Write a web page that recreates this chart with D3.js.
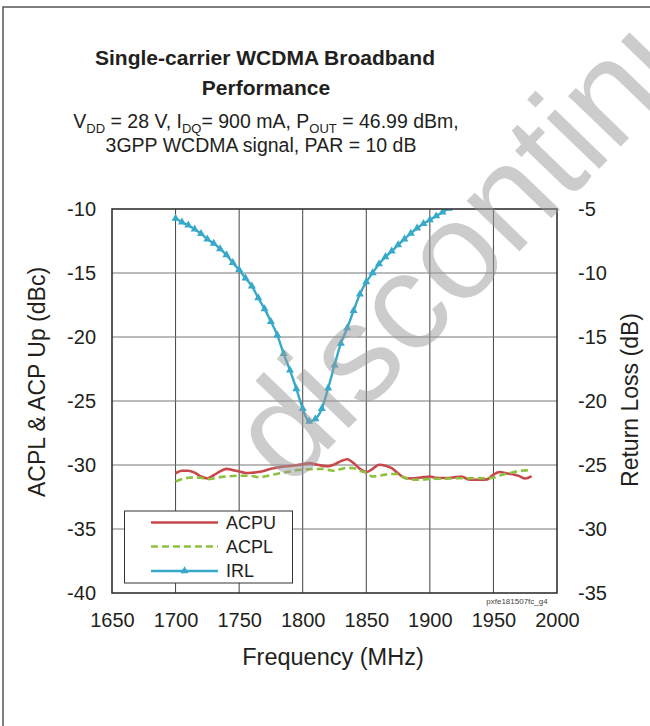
<!DOCTYPE html>
<html lang="en">
<head>
<meta charset="utf-8">
<script src="https://cdn.jsdelivr.net/npm/d3@7"></script>
<style>
  body { margin: 0; background: #fff; }
  svg { font-family: "Liberation Sans", Arial, sans-serif; }
</style>
</head>
<body>
<svg width="650" height="726"></svg>
<script>
// frequencies (MHz)
var freqs = [1700,1705,1710,1715,1720,1725,1730,1735,1740,1745,1750,1755,1760,1765,1770,1775,1780,1785,1790,1795,
  1800,1805,1810,1815,1820,1825,1830,1835,1840,1845,1850,1855,1860,1865,1870,1875,1880,1885,1890,1895,
  1900,1905,1910,1915,1920,1925,1930,1935,1940,1945,1950,1955,1960,1965,1970,1975,1980];

// ACPU (dBc), left axis
var acpu = [-30.65,-30.45,-30.45,-30.6,-30.9,-31.05,-30.8,-30.5,-30.3,-30.4,-30.5,-30.62,-30.6,-30.55,-30.45,-30.3,-30.2,-30.12,-30.08,-30.02,
  -29.95,-29.85,-29.95,-30.05,-30.1,-29.95,-29.7,-29.55,-29.85,-30.3,-30.55,-30.3,-29.98,-30.05,-30.25,-30.65,-31.0,-31.05,-31.02,-30.95,
  -30.9,-31.0,-31.02,-31.02,-30.95,-30.9,-31.12,-31.15,-31.15,-31.12,-30.75,-30.55,-30.65,-30.72,-30.85,-31.05,-30.86];

// ACPL (dBc), left axis
var acpl = [-31.3,-31.1,-31.0,-30.96,-31.0,-31.1,-31.05,-30.95,-30.9,-30.86,-30.84,-30.84,-30.86,-30.95,-30.9,-30.78,-30.68,-30.6,-30.5,-30.4,
  -30.36,-30.33,-30.32,-30.3,-30.38,-30.45,-30.32,-30.22,-30.25,-30.45,-30.62,-30.9,-30.83,-30.75,-30.7,-30.7,-31.0,-31.12,-31.15,-31.12,
  -31.1,-31.08,-31.08,-31.06,-31.04,-31.04,-31.04,-31.04,-31.04,-31.04,-31.0,-30.82,-30.68,-30.58,-30.47,-30.42,-30.42];

// IRL (dB), right axis
var irlFreqs = [1700,1705,1710,1715,1720,1725,1730,1735,1740,1745,1750,1755,1760,1765,1770,1775,1780,1785,1790,1795,
  1800,1805,1810,1815,1820,1825,1830,1835,1840,1845,1850,1855,1860,1865,1870,1875,1880,1885,1890,1895,1900,1905,1910,1915];
var irl = [-5.73,-6.03,-6.27,-6.58,-6.92,-7.35,-7.68,-8.12,-8.58,-9.2,-9.75,-10.4,-11.02,-11.95,-12.8,-13.8,-14.85,-16.3,-17.6,-19.05,
  -20.6,-21.6,-21.4,-20.6,-19.0,-17.2,-15.5,-14.3,-12.95,-11.65,-10.7,-10.0,-9.3,-8.75,-8.3,-7.8,-7.35,-6.9,-6.5,-6.15,-5.86,-5.55,-5.25,-4.95];

var xTicks = [1650,1700,1750,1800,1850,1900,1950,2000];
var leftTicks = [-40,-35,-30,-25,-20,-15,-10];
var rightTicks = [-35,-30,-25,-20,-15,-10,-5];

var svg = d3.select("svg");

var pLeft = 112, pRight = 557, pTop = 209, pBottom = 593;

var x = d3.scaleLinear().domain([1650, 2000]).range([pLeft, pRight]);
var yL = d3.scaleLinear().domain([-40, -10]).range([pBottom, pTop]);
var yR = d3.scaleLinear().domain([-35, -5]).range([pBottom, pTop]);

// plain hyphen for negatives, like the original
var fmt = function(d) { return String(d); };

// outer frame
svg.append("rect")
  .attr("x", 3).attr("y", 7).attr("width", 700).attr("height", 760)
  .attr("fill", "none").attr("stroke", "#555").attr("stroke-width", 1.5);

// title
var title = svg.append("g").attr("text-anchor", "middle").attr("fill", "#231f20");
title.append("text").attr("x", 265).attr("y", 65)
  .style("font-size", "21px").style("font-weight", "bold")
  .text("Single-carrier WCDMA Broadband");
title.append("text").attr("x", 266).attr("y", 95)
  .style("font-size", "21px").style("font-weight", "bold")
  .text("Performance");

var sub = title.append("text").attr("x", 266).attr("y", 128).style("font-size", "19.5px");
function subPart(t, small) {
  var s = sub.append("tspan").text(t);
  if (small) s.style("font-size", "13px").attr("dy", 5);
  return s;
}
subPart("V");
subPart("DD", true);
sub.append("tspan").attr("dy", -5).text(" = 28 V, I");
subPart("DQ", true);
sub.append("tspan").attr("dy", -5).text("= 900 mA, P");
subPart("OUT", true);
sub.append("tspan").attr("dy", -5).text(" = 46.99 dBm,");

title.append("text").attr("x", 261).attr("y", 152).style("font-size", "19.5px")
  .text("3GPP WCDMA signal, PAR = 10 dB");

// gridlines
var grid = svg.append("g");
grid.selectAll(".vg")
  .data(xTicks.slice(1, -1))
  .enter().append("line")
    .attr("x1", function(d) { return x(d); })
    .attr("x2", function(d) { return x(d); })
    .attr("y1", pTop).attr("y2", pBottom)
    .attr("stroke", "#444").attr("stroke-width", 1);
grid.selectAll(".hg")
  .data(leftTicks.slice(1, -1))
  .enter().append("line")
    .attr("x1", pLeft).attr("x2", pRight)
    .attr("y1", function(d) { return yL(d); })
    .attr("y2", function(d) { return yL(d); })
    .attr("stroke", "#777").attr("stroke-width", 1);

// axes (labels only)
var axL = svg.append("g")
  .attr("transform", "translate(" + (pLeft - 16) + ",0)")
  .call(d3.axisLeft(yL).tickValues(leftTicks).tickSize(0).tickPadding(0).tickFormat(fmt));
var axR = svg.append("g")
  .attr("transform", "translate(" + (pRight + 21) + ",0)")
  .call(d3.axisRight(yR).tickValues(rightTicks).tickSize(0).tickPadding(0).tickFormat(fmt));
var axB = svg.append("g")
  .attr("transform", "translate(0," + (pBottom + 20) + ")")
  .call(d3.axisBottom(x).tickValues(xTicks).tickSize(0).tickPadding(0).tickFormat(fmt));
[axL, axR, axB].forEach(function(a) {
  a.select(".domain").remove();
  a.selectAll("text").style("font-size", "20px").attr("fill", "#231f20")
    .style("font-family", "'Liberation Sans', Arial, sans-serif");
});
axB.selectAll("text").attr("dy", "0.71em");

// axis titles
svg.append("text")
  .attr("transform", "translate(37,382) rotate(-90)")
  .attr("text-anchor", "middle").attr("dominant-baseline", "central")
  .style("font-size", "23px").attr("fill", "#231f20")
  .text("ACPL & ACP Up (dBc)");
svg.append("text")
  .attr("transform", "translate(630,400) rotate(-90)")
  .attr("text-anchor", "middle").attr("dominant-baseline", "central")
  .style("font-size", "23px").attr("fill", "#231f20")
  .text("Return Loss (dB)");
svg.append("text")
  .attr("x", 333).attr("y", 665)
  .attr("text-anchor", "middle")
  .style("font-size", "23.5px").attr("fill", "#231f20")
  .text("Frequency (MHz)");

svg.append("text")
  .attr("x", 517).attr("y", 604)
  .attr("text-anchor", "middle")
  .style("font-size", "8px").attr("fill", "#444")
  .text("pxfe181507fc_g4");

// plot clip
svg.append("clipPath").attr("id", "plotclip")
  .append("rect").attr("x", pLeft).attr("y", pTop).attr("width", pRight - pLeft).attr("height", pBottom - pTop);

var plot = svg.append("g").attr("clip-path", "url(#plotclip)");

var red = "#c9474a", green = "#8dc23f", cyan = "#37a9c9";

var lineL = d3.line()
  .x(function(d, i) { return x(freqs[i]); })
  .y(function(d) { return yL(d); })
  .curve(d3.curveMonotoneX);

plot.append("path").datum(acpu)
  .attr("d", lineL).attr("fill", "none")
  .attr("stroke", red).attr("stroke-width", 2.6);
plot.append("path").datum(acpl)
  .attr("d", lineL).attr("fill", "none")
  .attr("stroke", green).attr("stroke-width", 2.6)
  .attr("stroke-dasharray", "7,4");

var lineR = d3.line()
  .x(function(d, i) { return x(irlFreqs[i]); })
  .y(function(d) { return yR(d); })
  .curve(d3.curveMonotoneX);

plot.append("path").datum(irl)
  .attr("d", lineR).attr("fill", "none")
  .attr("stroke", cyan).attr("stroke-width", 2.4);

var tri = d3.symbol().type(d3.symbolTriangle).size(28);
plot.selectAll(".mk")
  .data(irl)
  .enter().append("path")
    .attr("d", tri)
    .attr("transform", function(d, i) { return "translate(" + x(irlFreqs[i]) + "," + yR(d) + ")"; })
    .attr("fill", cyan);

// plot frame
svg.append("rect")
  .attr("x", pLeft).attr("y", pTop).attr("width", pRight - pLeft).attr("height", pBottom - pTop)
  .attr("fill", "none").attr("stroke", "#333").attr("stroke-width", 1.6);

// legend
var lg = svg.append("g");
lg.append("rect")
  .attr("x", 124.5).attr("y", 511).attr("width", 168).attr("height", 72)
  .attr("fill", "#fff").attr("stroke", "#333").attr("stroke-width", 1);
var legendItems = [
  { name: "ACPU", color: red, dash: null, y: 522.5 },
  { name: "ACPL", color: green, dash: "7,4", y: 546.5 },
  { name: "IRL", color: cyan, dash: null, y: 571 }
];
legendItems.forEach(function(it) {
  lg.append("line")
    .attr("x1", 151).attr("x2", 218).attr("y1", it.y).attr("y2", it.y)
    .attr("stroke", it.color).attr("stroke-width", 2.6)
    .attr("stroke-dasharray", it.dash);
  lg.append("text")
    .attr("x", 226).attr("y", it.y).attr("dy", "0.36em")
    .style("font-size", "18px").attr("fill", "#231f20")
    .text(it.name);
});
lg.append("path")
  .attr("d", tri)
  .attr("transform", "translate(184.5,571)")
  .attr("fill", cyan);

// watermark
svg.append("text")
  .attr("transform", "translate(289,490) rotate(-46)")
  .style("font-size", "138px")
  .attr("fill", "#9a9a9a").attr("fill-opacity", 0.5)
  .text("discontinued");
</script>
</body>
</html>
